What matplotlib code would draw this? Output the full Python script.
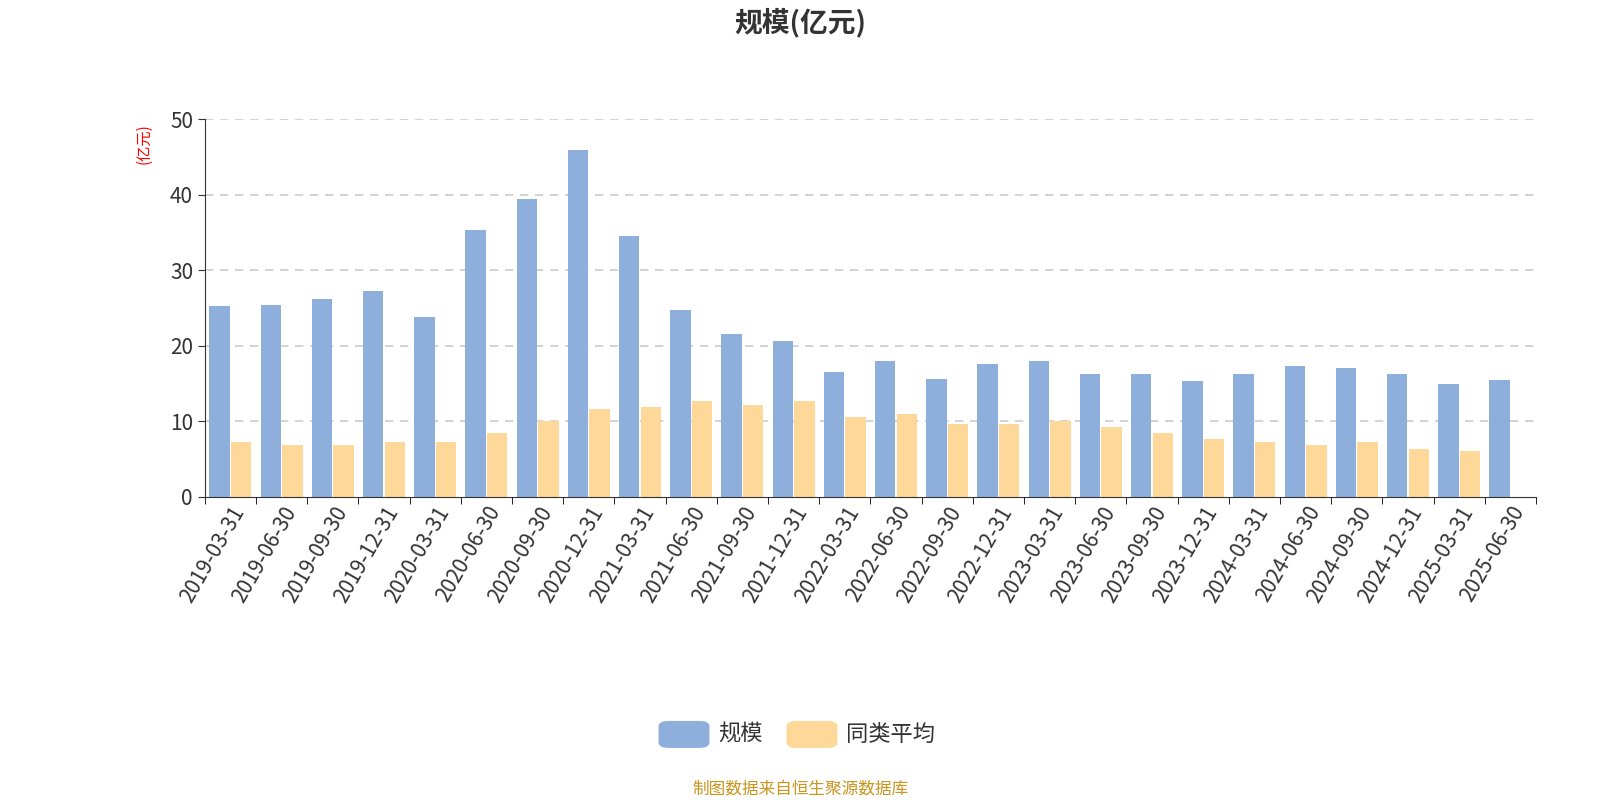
import numpy as np
import matplotlib.pyplot as plt
from matplotlib.patches import FancyBboxPatch

plt.rcParams['font.family'] = 'sans-serif'
plt.rcParams['font.sans-serif'] = ['Noto Sans CJK SC', 'Noto Sans CJK JP', 'Noto Sans CJK TC',
                                   'Noto Sans CJK KR', 'DejaVu Sans']

dates = ['2019-03-31', '2019-06-30', '2019-09-30', '2019-12-31', '2020-03-31', '2020-06-30',
         '2020-09-30', '2020-12-31', '2021-03-31', '2021-06-30', '2021-09-30', '2021-12-31',
         '2022-03-31', '2022-06-30', '2022-09-30', '2022-12-31', '2023-03-31', '2023-06-30',
         '2023-09-30', '2023-12-31', '2024-03-31', '2024-06-30', '2024-09-30', '2024-12-31',
         '2025-03-31', '2025-06-30']
scale = [25.2, 25.4, 26.2, 27.3, 23.8, 35.3, 39.4, 45.9, 34.5, 24.8, 21.6, 20.6, 16.5,
         18.0, 15.6, 17.6, 18.0, 16.2, 16.3, 15.3, 16.3, 17.3, 17.1, 16.2, 14.9, 15.5]
peer_avg = [7.2, 6.8, 6.9, 7.3, 7.2, 8.5, 10.0, 11.6, 11.9, 12.7, 12.1, 12.7, 10.6,
            11.0, 9.7, 9.7, 10.1, 9.2, 8.4, 7.7, 7.2, 6.9, 7.2, 6.3, 6.1, np.nan]

blue = '#8eaedb'
orange = '#fed899'

fig = plt.figure(figsize=(16, 8), dpi=100)
ax = fig.add_axes([0.128, 0.379, 0.832, 0.472])
x = np.arange(len(dates))
ax.bar(x - 0.21, scale, width=0.4, color=blue)
ax.bar(x + 0.21, peer_avg, width=0.4, color=orange)

ax.set_xlim(-0.5, len(dates) - 0.5)
ax.set_ylim(0, 50)
ax.set_yticks(range(0, 51, 10))
ax.tick_params(axis='y', labelsize=15, colors='#333333', length=5)
ax.tick_params(axis='x', length=0, labelsize=15, labelcolor='#333333', pad=4)
ax.set_xticks(x)
ax.set_xticklabels(dates, rotation=60, ha='right', rotation_mode='anchor')
ax.set_xticks(np.arange(-0.5, len(dates)), minor=True)
ax.tick_params(axis='x', which='minor', length=5)
for y in range(10, 51, 10):
    ax.axhline(y, color='#cccccc', linestyle=(0, (5, 4)), linewidth=1.2, zorder=0)
for s in ['top', 'right']:
    ax.spines[s].set_visible(False)
ax.spines['left'].set_color('#333333')
ax.spines['bottom'].set_color('#333333')

fig.text(0.09, 0.82, '(亿元)', rotation=90, color='red', fontsize=11, ha='center', va='center')
fig.text(0.5, 0.972, '规模(亿元)', fontsize=20, fontweight='bold', color='#333333', ha='center', va='center')

# legend
for px, col, lab in [(0.412, blue, '规模'), (0.492, orange, '同类平均')]:
    fig.patches.append(FancyBboxPatch((px, 0.066), 0.031, 0.032, boxstyle='round,pad=0,rounding_size=0.006',
                                      transform=fig.transFigure, color=col))
    fig.text(px + 0.037, 0.082, lab, fontsize=16, color='#333333', va='center')

fig.text(0.5, 0.014, '制图数据来自恒生聚源数据库', fontsize=12, color='#c8951e', ha='center', va='center')
fig.savefig('out.png')
